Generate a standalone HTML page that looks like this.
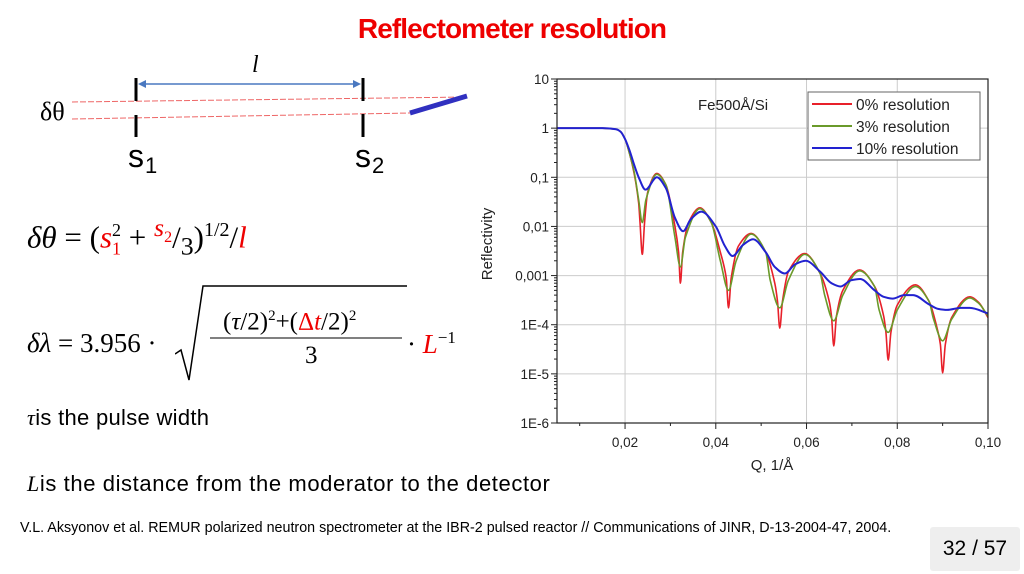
<!DOCTYPE html>
<html><head><meta charset="utf-8"><style>
body{margin:0;width:1024px;height:574px;background:#fff;position:relative;overflow:hidden;font-family:"Liberation Sans",sans-serif}
.abs{position:absolute}
.m{font-family:"Liberation Serif",serif;font-size:27px;white-space:nowrap}
.r{color:#e00}
i{font-style:italic}
</style></head><body>
<div class="abs" style="left:0;width:1024px;top:13px;text-align:center;color:#e00;font-weight:bold;font-size:28px;letter-spacing:-0.9px">Reflectometer resolution</div>
<svg class="abs" style="left:0;top:0" width="480" height="180">
<line x1="72" y1="102" x2="467" y2="97" stroke="#e66" stroke-width="1" stroke-dasharray="6,2"/>
<line x1="72" y1="119" x2="410" y2="113" stroke="#e66" stroke-width="1" stroke-dasharray="6,2"/>
<line x1="136" y1="78" x2="136" y2="101" stroke="#000" stroke-width="3"/>
<line x1="136" y1="115" x2="136" y2="137" stroke="#000" stroke-width="3"/>
<line x1="363" y1="78" x2="363" y2="101" stroke="#000" stroke-width="3"/>
<line x1="363" y1="114" x2="363" y2="137" stroke="#000" stroke-width="3"/>
<line x1="142" y1="84" x2="357" y2="84" stroke="#4a78c0" stroke-width="1.5"/>
<polygon points="138,84 146,80 146,88" fill="#4a78c0"/><polygon points="361,84 353,80 353,88" fill="#4a78c0"/>
<line x1="410" y1="113" x2="467" y2="96" stroke="#3030c0" stroke-width="5"/>
<text x="252" y="72" font-family="Liberation Serif" font-style="italic" font-size="24">l</text>
<text x="40" y="120" font-family="Liberation Serif" font-size="26">δθ</text>
<text x="128" y="167" font-family="Liberation Sans" font-size="32">s</text><text x="145" y="173" font-family="Liberation Sans" font-size="22">1</text>
<text x="355" y="167" font-family="Liberation Sans" font-size="32">s</text><text x="372" y="173" font-family="Liberation Sans" font-size="22">2</text>
</svg>
<div class="abs m" style="left:27px;top:213px;font-size:31px"><i>δθ</i> = (<i class="r">s</i><sub class="r" style="font-size:18px">1</sub><sup style="font-size:18px;margin-left:-9px">2</sup> + <sup><i class="r">s</i><sub class="r" style="font-size:16px">2</sub></sup>/<sub>3</sub>)<sup style="font-size:20px">1/2</sup>/<i class="r">l</i></div>
<div class="abs m" style="left:27px;top:310px;height:70px">
<span style="position:absolute;top:18px"><i>δλ</i> = 3.956 ·</span>
<svg style="position:absolute;left:148px;top:-26px" width="240" height="100"><polyline points="0,70 6,66 14,96 28,2 232,2" fill="none" stroke="#000" stroke-width="1.5"/><line x1="35" y1="54" x2="227" y2="54" stroke="#000" stroke-width="1"/></svg>
<span style="position:absolute;left:196px;top:-2px;font-size:25px">(<i>τ</i>/2)<sup style="font-size:15px">2</sup>+(<span class="r">Δ<i>t</i></span>/2)<sup style="font-size:15px">2</sup></span>
<span style="position:absolute;left:278px;top:32px;font-size:25px">3</span>
<span style="position:absolute;left:380px;top:18px">· <i class="r">L</i><sup style="font-size:17px">−1</sup></span></div>
<div class="abs" style="left:27px;top:405px;font-size:22px;letter-spacing:0.3px"><i style="font-family:'Liberation Serif'">τ</i>is the pulse width</div>
<div class="abs" style="left:27px;top:471px;font-size:22px;letter-spacing:0.6px"><i style="font-family:'Liberation Serif'">L</i>is the distance from the moderator to the detector</div>
<div class="abs" style="left:20px;top:520px;font-size:14.3px;white-space:nowrap">V.L. Aksyonov et al. REMUR polarized neutron spectrometer at the IBR-2 pulsed reactor // Communications of JINR, D-13-2004-47, 2004.</div>
<div class="abs" style="left:930px;top:527px;width:90px;height:44px;background:#eee;border-radius:3px;font-size:21px;line-height:44px;text-align:center">32 / 57</div>
<svg id="chart" class="abs" style="left:0;top:0" width="1024" height="574"></svg>
<script>
const xTicks=[0.02,0.04,0.06,0.08,0.10];
const xTickLabels=["0,02","0,04","0,06","0,08","0,10"];
const yTicks=[1,0,-1,-2,-3,-4,-5,-6];
const yTickLabels=["10","1","0,1","0,01","0,001","1E-4","1E-5","1E-6"];
const seriesNames=["0% resolution","3% resolution","10% resolution"];
const seriesColors=["#e8202a","#6a9a2a","#2222d0"];
const red=[[0.005,1],[0.015,1],[0.018,0.95],[0.019,0.85],[0.020,0.6],[0.021,0.3],[0.022,0.12],[0.023,0.03],[0.0233,0.012],[0.0238,0.0027],[0.0243,0.012],[0.025,0.05],[0.027,0.12],[0.029,0.07],[0.031,0.01],[0.0318,0.003],[0.0322,0.0007],[0.0327,0.003],[0.034,0.012],[0.0365,0.024],[0.039,0.012],[0.041,0.003],[0.0423,0.0009],[0.0428,0.00022],[0.0434,0.0009],[0.045,0.004],[0.0478,0.0072],[0.051,0.003],[0.053,0.0007],[0.0536,0.0003],[0.0541,0.000085],[0.0547,0.0003],[0.056,0.0012],[0.0596,0.0028],[0.063,0.0011],[0.065,0.0003],[0.0655,0.00015],[0.066,0.000037],[0.0666,0.00015],[0.068,0.0005],[0.0717,0.0013],[0.075,0.0006],[0.077,0.00015],[0.0775,0.00007],[0.078,0.000019],[0.0786,0.00007],[0.080,0.00025],[0.084,0.00065],[0.087,0.0003],[0.089,0.00007],[0.0895,0.00004],[0.090,0.0000105],[0.0906,0.00004],[0.092,0.00014],[0.096,0.00037],[0.098,0.00028],[0.100,0.00014]];
const green=[[0.005,1],[0.015,1],[0.018,0.95],[0.019,0.85],[0.020,0.6],[0.021,0.3],[0.022,0.13],[0.023,0.035],[0.0238,0.012],[0.0246,0.035],[0.027,0.115],[0.029,0.07],[0.031,0.006],[0.0322,0.0015],[0.0333,0.006],[0.0365,0.023],[0.039,0.012],[0.041,0.002],[0.0428,0.0005],[0.0445,0.002],[0.0478,0.007],[0.051,0.003],[0.052,0.0008],[0.0541,0.00022],[0.056,0.0008],[0.0596,0.0027],[0.063,0.0011],[0.064,0.0004],[0.066,0.00012],[0.068,0.0004],[0.0717,0.00125],[0.075,0.0006],[0.076,0.0002],[0.078,0.00007],[0.080,0.0002],[0.084,0.0006],[0.087,0.0003],[0.088,0.00013],[0.090,0.000047],[0.092,0.00013],[0.096,0.00035],[0.098,0.00027],[0.1,0.00015]];
const blue=[[0.005,1],[0.015,1],[0.018,0.95],[0.019,0.85],[0.020,0.6],[0.021,0.35],[0.022,0.18],[0.023,0.1],[0.0245,0.056],[0.027,0.10],[0.029,0.06],[0.031,0.015],[0.0328,0.008],[0.0345,0.014],[0.0368,0.02],[0.040,0.01],[0.042,0.004],[0.0437,0.0025],[0.046,0.0042],[0.0482,0.0055],[0.051,0.003],[0.053,0.0015],[0.0552,0.0011],[0.0575,0.0017],[0.0598,0.002],[0.063,0.0012],[0.0655,0.0007],[0.0675,0.0006],[0.0698,0.0008],[0.0718,0.00085],[0.075,0.0005],[0.077,0.00037],[0.079,0.00034],[0.0815,0.0004],[0.0835,0.0004],[0.087,0.00026],[0.089,0.00021],[0.091,0.0002],[0.094,0.00022],[0.096,0.00022],[0.1,0.00017]];
const allSeries=[red,green,blue];
const L=557,R=988,T=79,B=423,X0=0.005,X1=0.10;
const sx=v=>L+(v-X0)/(X1-X0)*(R-L);
const sy=v=>T+(1-Math.log10(v))/7*(B-T);
const NS="http://www.w3.org/2000/svg",svg=document.getElementById('chart');
function mk(t,a,txt){const e=document.createElementNS(NS,t);for(const k in a)e.setAttribute(k,a[k]);if(txt!==undefined)e.textContent=txt;svg.appendChild(e);return e;}
const bg=mk('rect',{x:L,y:T,width:R-L,height:B-T,fill:'#fff'});


xTicks.forEach((v,i)=>{
 const g=mk('line',{x1:sx(v),x2:sx(v),y1:T,y2:B,stroke:'#ccc','stroke-width':1});
 
 
 const t=mk('text',{x:sx(v),y:B+24,'text-anchor':'middle','font-size':13.5,fill:'#222'},xTickLabels[i]);
 
 
 mk('line',{x1:sx(v),x2:sx(v),y1:B,y2:B+6,stroke:'#222'});
 mk('line',{x1:sx(v-0.01),x2:sx(v-0.01),y1:B,y2:B+3,stroke:'#222'});
});
yTicks.forEach((e,i)=>{
 const y=sy(Math.pow(10,e));
 const g=mk('line',{x1:L,x2:R,y1:y,y2:y,stroke:'#ccc','stroke-width':1});
 
 
 const t=mk('text',{x:L-8,y:y+5,'text-anchor':'end','font-size':13.5,fill:'#222'},yTickLabels[i]);
 
 
 mk('line',{x1:L-6,x2:L,y1:y,y2:y,stroke:'#222'});
 if(e>-6)for(let k=2;k<10;k++){const yy=sy(k*Math.pow(10,e-1));mk('line',{x1:L-3,x2:L,y1:yy,y2:yy,stroke:'#222'});}
});
function path(pts){
 const p=pts.map(d=>[sx(d[0]),sy(d[1])]),n=p.length,dl=[],m=[];
 for(let i=0;i<n-1;i++)dl.push((p[i+1][1]-p[i][1])/(p[i+1][0]-p[i][0]));
 m[0]=dl[0];m[n-1]=dl[n-2];
 for(let i=1;i<n-1;i++)m[i]=(dl[i-1]*dl[i]<=0)?0:2/(1/dl[i-1]+1/dl[i]);
 let s='M'+p[0][0]+','+p[0][1];
 for(let i=0;i<n-1;i++){const h=(p[i+1][0]-p[i][0])/3;
  s+=' C'+(p[i][0]+h)+','+(p[i][1]+m[i]*h)+' '+(p[i+1][0]-h)+','+(p[i+1][1]-m[i+1]*h)+' '+p[i+1][0]+','+p[i+1][1];}
 return s;}
const clip=mk('clipPath',{id:'pc'});const cr=document.createElementNS(NS,'rect');cr.setAttribute('x',L);cr.setAttribute('y',T);cr.setAttribute('width',R-L);cr.setAttribute('height',B-T);clip.appendChild(cr);
allSeries.forEach((s,i)=>{
 const p=mk('path',{d:path(s),fill:'none',stroke:seriesColors[i],'stroke-width':i==2?2:1.6,'clip-path':'url(#pc)'});
 
 
});
const fr=mk('rect',{x:L,y:T,width:R-L,height:B-T,fill:'none',stroke:'#222','stroke-width':1.2});


const lb=mk('rect',{x:808,y:92,width:172,height:68,fill:'#fff',stroke:'#666'});


seriesNames.forEach((n,i)=>{const y=104+i*22;
 mk('line',{x1:812,x2:852,y1:y,y2:y,stroke:seriesColors[i],'stroke-width':2});
 const t=mk('text',{x:856,y:y+6,'font-size':15.5,fill:'#222'},n);
 
 
});
const an=mk('text',{x:698,y:110,'font-size':15,fill:'#222'},'Fe500Å/Si');


const xt=mk('text',{x:772,y:470,'text-anchor':'middle','font-size':15,fill:'#222'},'Q, 1/Å');


const yt=mk('text',{x:0,y:0,'text-anchor':'middle','font-size':15,fill:'#222',transform:'translate(492,244) rotate(-90)'},'Reflectivity');


</script>
</body></html>
